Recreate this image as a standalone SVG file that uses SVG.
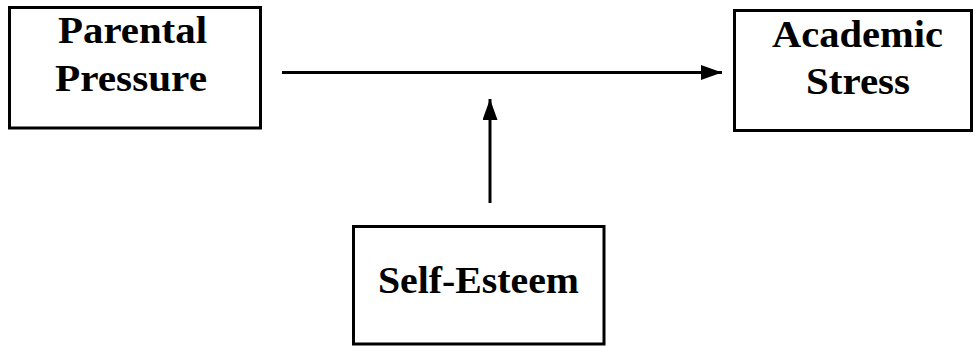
<svg xmlns="http://www.w3.org/2000/svg" width="975" height="347" viewBox="0 0 975 347">
<style>
.box{fill:#fff;stroke:#000;stroke-width:3}
.lbl{font-family:'Liberation Serif','DejaVu Serif',serif;font-weight:700;font-size:38px;fill:#000}
.conn{stroke:#000;stroke-width:3;fill:none}
</style>
<defs>
<marker id="ah" markerWidth="7" markerHeight="5" refX="7" refY="2.5" orient="auto" markerUnits="strokeWidth">
<path d="M0,0 L7,2.5 L0,5 Z" fill="#000"/>
</marker>
</defs>
<rect width="975" height="347" fill="#fff"/>
<g id="parental-pressure">
<rect class="box" x="9.5" y="7.5" width="251" height="120.5"/>
<text class="lbl" font-family="Liberation Serif, serif" x="58" y="43" textLength="149" lengthAdjust="spacingAndGlyphs">Parental</text>
<text class="lbl" font-family="Liberation Serif, serif" x="55" y="90.5" textLength="152" lengthAdjust="spacingAndGlyphs">Pressure</text>
</g>
<g id="academic-stress">
<rect class="box" x="734.5" y="10.5" width="237" height="120"/>
<text class="lbl" font-family="Liberation Serif, serif" x="772" y="47" textLength="171" lengthAdjust="spacingAndGlyphs">Academic</text>
<text class="lbl" font-family="Liberation Serif, serif" x="806" y="94" textLength="104" lengthAdjust="spacingAndGlyphs">Stress</text>
</g>
<g id="self-esteem">
<rect class="box" x="353.5" y="226.5" width="250.5" height="117.5"/>
<text class="lbl" font-family="Liberation Serif, serif" x="378" y="292.5" textLength="201" lengthAdjust="spacingAndGlyphs">Self-Esteem</text>
</g>
<g id="connectors">
<line class="conn" x1="282" y1="72.5" x2="722" y2="72.5" marker-end="url(#ah)"/>
<line class="conn" x1="490" y1="203" x2="490" y2="99" marker-end="url(#ah)"/>
</g>
</svg>
